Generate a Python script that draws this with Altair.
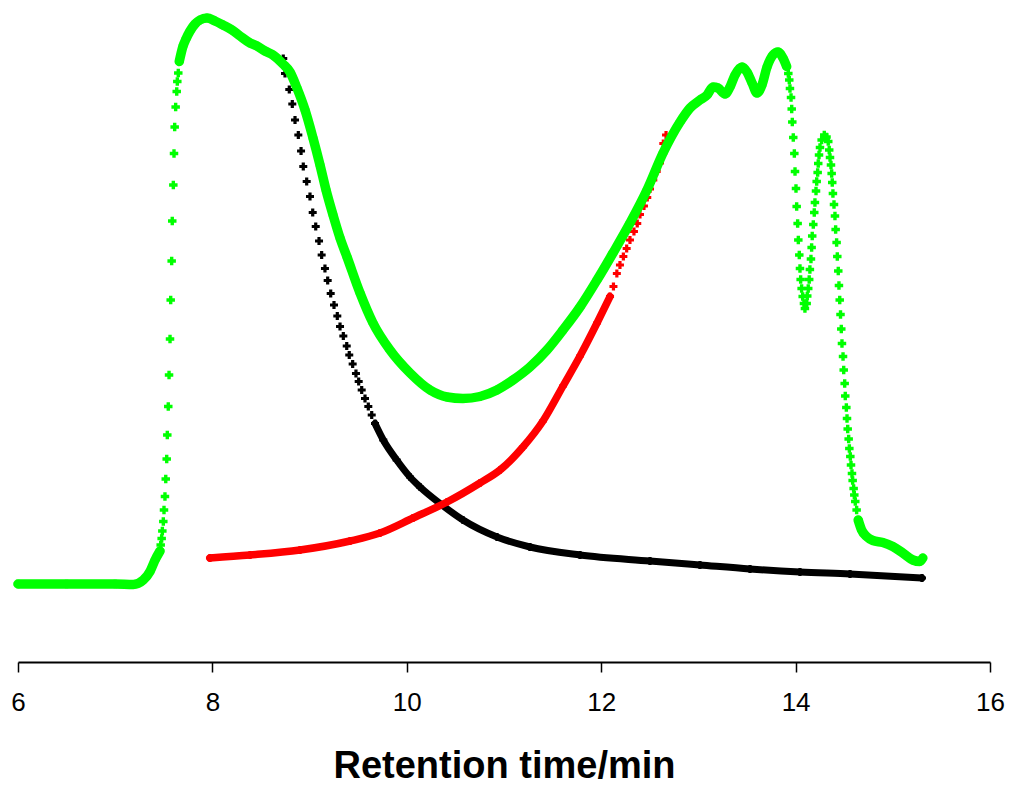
import altair as alt
import pandas as pd

# ---- data (time in min, signal in arbitrary units) ----
green_t = [6.0, 6.5, 7.0, 7.186, 7.289, 7.358, 7.41,
           7.461, 7.468, 7.478, 7.485, 7.495, 7.502, 7.512, 7.520, 7.530, 7.536, 7.546, 7.554,
           7.564, 7.571, 7.581, 7.587, 7.598, 7.605, 7.612, 7.622, 7.633, 7.639, 7.649, 7.659,
           7.698, 7.728, 7.770, 7.821, 7.872, 7.944, 8.027, 8.109, 8.202, 8.284, 8.387, 8.459,
           8.541, 8.623, 8.726, 8.798, 8.870, 8.953, 9.035, 9.107, 9.169, 9.241, 9.313, 9.385,
           9.519, 9.652, 9.827, 10.033, 10.239, 10.414, 10.578, 10.753, 10.928, 11.093, 11.267,
           11.442, 11.607, 11.782, 11.957, 12.121, 12.296, 12.471, 12.636, 12.811, 12.914, 13.016,
           13.089, 13.150, 13.202, 13.274, 13.325, 13.377, 13.449, 13.500, 13.552, 13.603, 13.654,
           13.706, 13.767, 13.819, 13.870,
           13.908, 13.925, 13.935, 13.942, 13.953, 13.960, 13.966, 13.976, 13.987, 13.994, 14.004,
           14.011, 14.021, 14.028, 14.038, 14.045, 14.052, 14.062, 14.073, 14.086, 14.096,
           14.114, 14.120, 14.130, 14.140, 14.147, 14.158, 14.165, 14.171, 14.182, 14.192, 14.199,
           14.210, 14.217, 14.227, 14.233, 14.241, 14.251, 14.268, 14.295, 14.318,
           14.336, 14.346, 14.354, 14.364, 14.371, 14.377, 14.384, 14.395, 14.405, 14.412, 14.422,
           14.429, 14.439, 14.446, 14.454, 14.462, 14.470, 14.477, 14.488, 14.495, 14.505, 14.511,
           14.522, 14.529, 14.536, 14.546, 14.553, 14.563, 14.570, 14.580, 14.587, 14.597, 14.604,
           14.614, 14.628, 14.644,
           14.679, 14.730, 14.795, 14.897, 15.000, 15.103, 15.206, 15.278, 15.309]
green_v = [15.6, 15.6, 15.6, 15.5, 16.4, 18.1, 20.4,
           22.2, 23.4, 24.7, 26.2, 28.1, 30.4, 33.1, 36.6, 40.6, 45.4, 51.1, 57.4,
           64.6, 72.4, 80.2, 88.2, 95.4, 101.7, 107.0, 111.0, 114.1, 116.1, 117.8, 120.1,
           123.2, 124.6, 126.2, 127.6, 128.4, 128.8, 128.2, 127.4, 126.4, 125.2, 123.8, 123.2,
           122.2, 121.4, 119.6, 118.0, 114.8, 110.4, 104.8, 99.4, 94.4, 89.4, 84.8, 81.0,
           73.8, 67.8, 62.4, 57.8, 54.4, 53.0, 52.7, 53.1, 54.4, 56.4, 59.0,
           62.4, 66.4, 71.0, 76.4, 81.8, 87.8, 94.4, 101.8, 108.0, 110.8, 112.4,
           113.4, 115.0, 114.8, 113.6, 115.0, 117.4, 119.0, 118.0, 115.8, 113.8, 115.4,
           119.0, 121.4, 122.0, 120.8,
           119.1, 117.7, 116.4, 114.7, 112.9, 110.6, 108.0, 104.9, 101.7, 98.1, 94.7,
           91.1, 87.7, 84.4, 81.4, 78.7, 76.5, 74.7, 73.1, 71.7, 70.7,
           71.7, 73.2, 74.7, 76.5, 78.5, 80.6, 82.9, 85.2, 87.5, 89.9, 91.9,
           94.2, 96.1, 97.9, 99.7, 101.4, 102.9, 104.4, 105.4, 105.0,
           104.1, 102.4, 100.9, 99.4, 97.7, 95.9, 93.7, 91.5, 89.2, 86.5, 83.9,
           81.1, 78.2, 75.3, 72.4, 69.5, 66.6, 63.7, 61.1, 58.4, 55.7, 53.2,
           50.9, 48.7, 46.6, 44.6, 42.7, 41.1, 39.4, 37.7, 36.3, 34.7, 33.4,
           32.1, 30.4, 28.4,
           26.4, 25.1, 24.3, 23.9, 23.1, 21.8, 20.4, 20.1, 20.8]

black_t = [8.729, 8.747, 8.791, 8.822, 8.850, 8.884, 8.912, 8.935, 8.970, 9.004,
           9.032, 9.063, 9.097, 9.124, 9.158, 9.186, 9.217, 9.251, 9.285, 9.313,
           9.347, 9.382, 9.408, 9.443, 9.477, 9.505, 9.536, 9.570, 9.604, 9.639, 9.673,
           9.758, 9.896, 10.033, 10.136, 10.362, 10.578, 10.928, 11.267, 11.782, 12.502,
           13.016, 13.531, 14.045, 14.560, 15.300]
black_v = [120.7, 117.7, 114.5, 111.6, 108.4, 105.4, 102.2, 99.1, 96.1, 93.1,
           89.9, 87.1, 84.2, 81.4, 78.7, 76.3, 73.7, 71.4, 69.2, 67.1,
           65.2, 63.2, 61.4, 59.6, 57.7, 56.1, 54.4, 52.7, 51.1, 49.4, 47.7,
           44.4, 40.4, 37.0, 35.0, 31.4, 28.4, 25.0, 23.0, 21.4, 20.2,
           19.4, 18.6, 18.0, 17.6, 16.8]

red_t = [7.975, 8.387, 8.901, 9.416, 9.724, 10.064, 10.414, 10.753, 10.959, 11.195,
         11.401, 11.607, 11.782, 11.957,
         12.091, 12.126, 12.161, 12.193, 12.228, 12.262, 12.296, 12.337, 12.371, 12.399,
         12.440, 12.474, 12.502, 12.536, 12.571, 12.605, 12.639, 12.667]
red_v = [20.8, 21.4, 22.4, 24.2, 25.8, 28.8, 32.0, 35.8, 38.4, 43.0,
         48.2, 55.2, 61.2, 67.8,
         73.1, 75.1, 77.7, 79.4, 81.1, 82.7, 84.4, 86.1, 87.7, 89.5,
         91.2, 92.9, 94.6, 96.4, 98.1, 99.8, 103.7, 105.4]

x_ticks = [6, 8, 10, 12, 14, 16]

# time windows where the samples are far apart and show as separate markers
GREEN_SPARSE = [(7.455, 7.665), (13.90, 14.65)]
BLACK_SPARSE = [(8.72, 9.68)]
RED_SPARSE = [(12.08, 12.70)]


def line_rows(name, ts, vs, windows):
    inside = [any(a <= t <= b for a, b in windows) for t in ts]
    rows, seg, prev = [], 0, False
    for i in range(len(ts) - 1):
        linked = not (inside[i] and inside[i + 1])
        if linked:
            if not prev:
                seg += 1
                rows.append({"t": ts[i], "v": vs[i], "seg": f"{name}{seg}", "o": i})
            rows.append({"t": ts[i + 1], "v": vs[i + 1], "seg": f"{name}{seg}", "o": i + 1})
        prev = linked
    return pd.DataFrame(rows)


x_scale = alt.Scale(domain=[6, 16], nice=False, zero=False)
y_scale = alt.Scale(domain=[0, 129], nice=False, zero=False)

LABEL_SIZE = 26

x_axis = alt.Axis(
    values=x_ticks, grid=False, tickSize=10, tickWidth=1.5, tickColor="black",
    domainColor="black", domainWidth=2, labelFont="Liberation Sans", labelFontSize=LABEL_SIZE,
    labelColor="black", labelBaseline="alphabetic", labelPadding=38, labelFlush=False,
    labelOverlap=False, title="Retention time/min", titleFont="Liberation Sans",
    titleFontSize=38, titleFontWeight="bold", titleColor="black", titleBaseline="alphabetic",
    titleY=115, titleX=486, titleAlign="center",
)


def series(name, ts, vs, windows, color, width, size):
    pts = pd.DataFrame({"t": ts, "v": vs})
    ln = alt.Chart(line_rows(name, ts, vs, windows)).mark_line(
        color=color, strokeWidth=width, strokeCap="round", strokeJoin="round",
        interpolate="monotone",
    ).encode(
        x=alt.X("t:Q", scale=x_scale, axis=x_axis),
        y=alt.Y("v:Q", scale=y_scale, axis=None),
        detail="seg:N",
        order="o:Q",
    )
    pt = alt.Chart(pts).mark_point(
        shape="cross", filled=True, size=size, color=color, opacity=1
    ).encode(
        x=alt.X("t:Q", scale=x_scale, axis=x_axis),
        y=alt.Y("v:Q", scale=y_scale, axis=None),
    )
    return [ln, pt]


layers = (series("k", black_t, black_v, BLACK_SPARSE, "#000000", 7, 64)
          + series("r", red_t, red_v, RED_SPARSE, "#ff0000", 7.5, 64)
          + series("g", green_t, green_v, GREEN_SPARSE, "#00ff00", 9.5, 72))

chart = alt.layer(*layers).properties(
    width=972, height=645,
    autosize=alt.AutoSizeParams(type="none"),
    padding={"left": 18, "top": 17, "right": 21, "bottom": 123},
    background="white",
).configure_view(stroke=None).configure_axisX(
    labelFontSize=LABEL_SIZE, labelFont="Liberation Sans"
)

chart.save("out.html", embed_options={"renderer": "svg", "actions": False})
